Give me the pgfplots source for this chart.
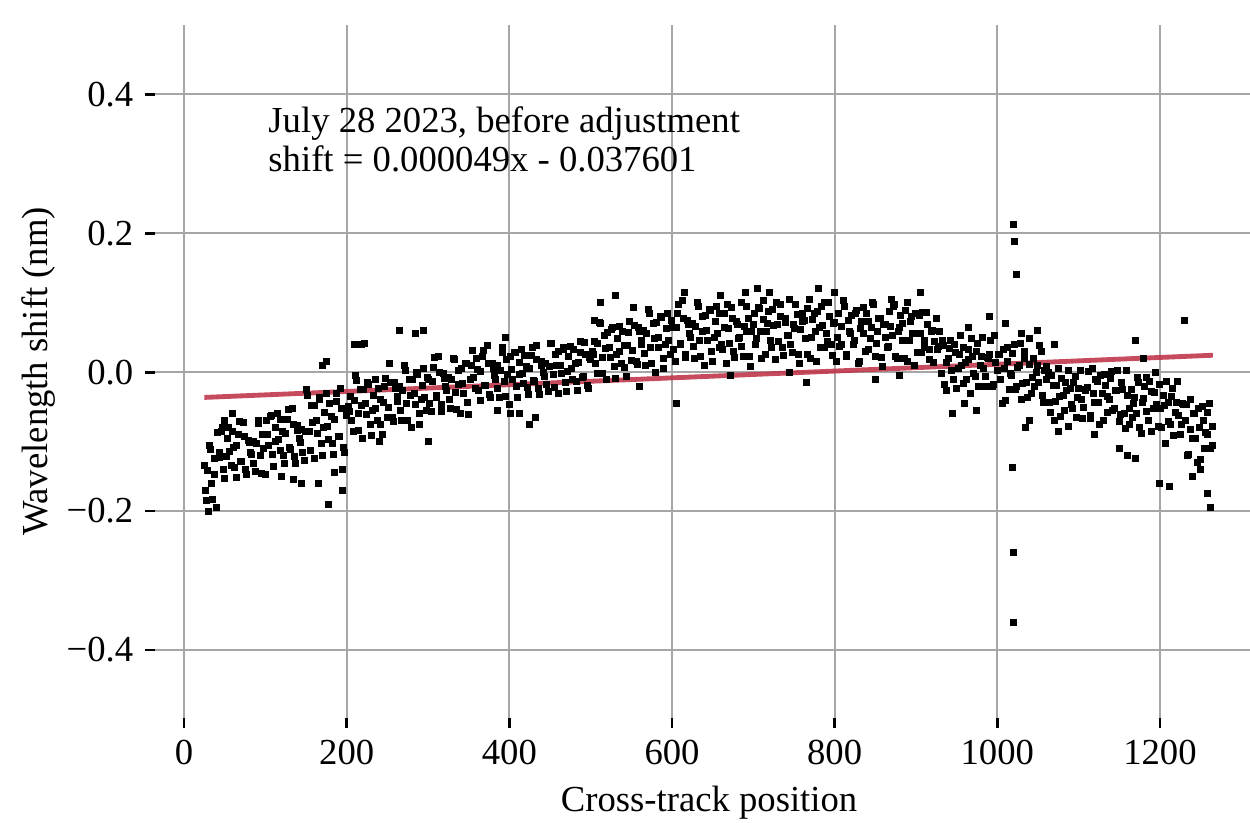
\documentclass[border=0pt]{standalone}
\usepackage{pgfplots}
\pgfplotsset{compat=1.18}
\usepackage{fontspec}
\setmainfont{Liberation Serif}
\definecolor{linered}{RGB}{192,55,75}
\begin{document}
\begin{tikzpicture}
\begin{axis}[name=ax, scale only axis, width=328.5pt, height=207.9pt,
  xmin=-35.7, xmax=1310.7, ymin=-0.498, ymax=0.5,
  axis line style={draw=none},
  grid=major, major grid style={gray!70, line width=0.6pt},
  tick pos=left, tick align=outside, major tick length=3pt,
  tick style={black, line width=0.8pt},
  xtick={0,200,400,600,800,1000,1200},
  xticklabels={0,200,400,600,800,1000,1200},
  ytick={-0.4,-0.2,0,0.2,0.4},
  yticklabels={−0.4,−0.2,0.0,0.2,0.4},
  tick label style={font=\fontsize{11}{13}\selectfont},
  xlabel={Cross-track position}, ylabel={Wavelength shift (nm)},
  xlabel style={at={(axis description cs:0.506,0)}, anchor=center, yshift=-25.5pt, font=\fontsize{11}{13}\selectfont},
  ylabel style={at={(axis description cs:-0.1065,0.5)}, anchor=center, rotate=0, font=\fontsize{11}{13}\selectfont},
  clip=false]
\addplot[only marks, mark=square*, mark size=0.85pt, black] coordinates {
(25,-0.135)(28,-0.185)(31,-0.105)(34,-0.16)(37,-0.125)(40,-0.195)
(43,-0.115)(46,-0.085)(49,-0.14)(52,-0.122)(55,-0.08)(58,-0.135)(61,-0.108)(64,-0.152)(67,-0.09)(70,-0.128)(73,-0.072)(76,-0.14)(79,-0.098)(82,-0.115)(85,-0.1)(88,-0.143)(91,-0.07)(94,-0.12)(97,-0.09)(100,-0.148)
(103,-0.09)(106,-0.064)(109,-0.118)(112,-0.1)(115,-0.059)(118,-0.113)(121,-0.086)(124,-0.131)(127,-0.068)(130,-0.109)(133,-0.052)(136,-0.122)(139,-0.077)(142,-0.095)(145,-0.082)(148,-0.127)
(151,-0.025)(154,-0.086)(157,-0.048)(160,-0.125)(163,-0.07)(166,-0.036)(169,-0.103)(172,-0.08)(175,-0.031)(178,-0.097)(181,-0.064)(184,-0.119)(187,-0.042)(190,-0.092)(193,-0.023)(196,-0.108)(199,-0.053)
(178,-0.19)(195,-0.17)(170,0.01)(175,0.015)(165,-0.16)(185,-0.145)(195,-0.14)(135,-0.155)(145,-0.16)(120,-0.15)(30,-0.2)(60,-0.06)(50,-0.07)
(202,-0.05)(205,-0.035)(208,-0.085)(211,-0.005)(214,-0.06)(217,-0.025)(220,-0.095)(223,-0.045)(226,-0.015)(229,-0.075)(232,-0.055)(235,-0.01)(238,-0.07)(241,-0.04)(244,-0.09)(247,-0.02)(250,-0.065)
(210,0.04)(218,0.04)(222,0.042)(265,0.06)(285,0.055)(295,0.06)
(253,0.013)(256,-0.065)(259,-0.015)(262,-0.035)(265,-0.02)(268,-0.07)(271,0.01)(274,-0.045)(277,-0.01)(280,-0.08)(283,-0.03)(286,0.0)(289,-0.06)(292,-0.04)(295,0.005)(298,-0.055)
(300,-0.1)(240,-0.1)
(301,-0.011)(304,-0.056)(307,0.007)(310,-0.034)(313,0.023)(316,-0.047)(319,-0.002)(322,-0.02)(325,-0.007)(328,-0.052)(331,0.02)(334,-0.029)(337,0.003)(340,-0.06)(343,-0.016)(346,0.012)(349,-0.043)
(352,-0.01)(355,0.031)(358,-0.023)(361,0.004)(364,-0.041)(367,0.022)(370,-0.019)(373,0.038)(376,-0.032)(379,0.013)(382,-0.005)(385,0.009)(388,-0.037)(391,0.036)(394,-0.014)(397,0.018)(400,-0.046)
(395,0.05)(402,-0.06)(385,-0.055)
(403,0.004)(406,0.028)(409,-0.02)(412,-0.004)(415,0.032)(418,-0.016)(421,0.008)(424,-0.032)(427,0.024)(430,-0.012)(433,0.038)(436,-0.024)(439,0.016)(442,0.0)(445,0.012)(448,-0.028)
(425,-0.075)(432,-0.065)(412,-0.06)
(451,0.041)(454,-0.003)(457,0.025)(460,-0.031)(463,0.009)(466,0.033)(469,-0.015)(472,0.001)(475,0.037)(478,-0.011)(481,0.013)(484,-0.027)(487,0.029)(490,-0.007)(493,0.043)(496,-0.019)(499,0.021)
(502,0.03)(505,0.044)(508,-0.002)(511,0.071)(514,0.021)(517,0.053)(520,-0.011)(523,0.035)(526,0.062)(529,0.008)(532,0.026)(535,0.066)(538,0.012)(541,0.039)(544,-0.006)(547,0.057)(550,0.017)
(512,0.1)(530,0.11)(505,0.075)
(553,0.093)(556,0.015)(559,0.065)(562,0.045)(565,0.06)(568,0.01)(571,0.09)(574,0.035)(577,0.07)(580,0.0)(583,0.05)(586,0.08)(589,0.02)(592,0.04)(595,0.085)(598,0.025)
(605,-0.045)(615,0.115)(560,-0.02)
(601,0.065)(604,0.015)(607,0.085)(610,0.04)(613,0.103)(616,0.025)(619,0.075)(622,0.055)(625,0.07)(628,0.02)(631,0.1)(634,0.045)(637,0.08)(640,0.01)(643,0.06)(646,0.09)(649,0.03)(652,0.05)(655,0.095)(658,0.035)
(661,0.04)(664,0.085)(667,0.013)(670,0.063)(673,0.093)(676,0.03)(679,0.073)(682,0.048)(685,0.1)(688,0.023)(691,0.058)(694,0.078)(697,0.008)(700,0.068)
(660,0.11)(690,0.115)(705,0.12)(720,0.115)(672,-0.005)
(703,0.04)(706,0.093)(709,0.058)(712,0.103)(715,0.025)(718,0.07)(721,0.045)(724,0.09)(727,0.018)(730,0.068)(733,0.098)(736,0.035)(739,0.078)(742,0.053)(745,0.105)(748,0.028)(751,0.063)(754,0.083)(757,0.013)(760,0.073)(763,0.075)(766,0.025)(769,0.105)(772,0.05)(775,0.085)(778,0.015)(781,0.065)(784,0.095)(787,0.035)(790,0.055)(793,0.1)(796,0.04)(799,0.07)
(765,-0.015)(780,0.12)(745,0.0)(800,0.115)
(802,0.015)(805,0.085)(808,0.04)(811,0.103)(814,0.025)(817,0.075)(820,0.055)(823,0.04)(826,0.085)(829,0.013)(832,0.063)(835,0.093)(838,0.03)(841,0.073)(844,0.048)(847,0.1)(850,0.023)(853,0.058)(856,0.078)(859,0.008)(862,0.068)(865,0.035)(868,0.088)(871,0.053)(874,0.098)(877,0.02)(880,0.065)(883,0.07)(886,0.02)(889,0.1)(892,0.045)(895,0.08)(898,0.01)
(870,0.105)(905,0.115)(850,-0.01)(880,-0.005)
(901,0.055)(904,0.082)(907,0.028)(910,0.046)(913,0.086)(916,0.032)(919,0.059)(922,0.014)(925,0.077)(928,0.037)
(931,-0.002)(934,0.039)(937,-0.026)(940,0.019)(943,0.046)(946,-0.011)(949,0.028)(952,0.005)(955,0.053)(958,-0.017)(961,0.014)(964,0.032)(967,-0.031)(970,0.023)(973,-0.006)(976,0.041)(979,0.01)(982,0.05)(985,-0.02)(988,0.021)(991,0.026)(994,-0.02)(997,0.053)(1000,0.003)
(945,-0.06)(960,-0.045)(975,-0.055)(990,0.08)(965,0.065)
(1003,0.025)(1006,-0.045)(1009,0.005)(1012,0.035)(1015,-0.025)(1018,-0.005)(1021,0.04)(1024,-0.02)(1027,0.01)(1030,-0.04)(1033,0.03)(1036,-0.015)(1039,0.048)(1042,-0.03)(1045,0.02)(1048,0.0)(1051,-0.015)(1054,0.03)(1057,-0.043)(1060,0.008)
(1010,0.07)(1030,0.055)(1050,0.06)(1040,-0.07)(1035,-0.08)
(1020,0.213)(1021,0.188)(1023,0.14)(1019,-0.137)(1020,-0.26)(1020,-0.36)
(1063,-0.001)(1066,-0.058)(1069,-0.019)(1072,-0.042)(1075,0.006)(1078,-0.064)(1081,-0.033)(1084,-0.015)(1087,-0.078)(1090,-0.024)(1093,-0.053)(1096,-0.006)(1099,-0.037)(1102,0.003)(1105,-0.067)(1108,-0.026)(1111,-0.022)(1114,-0.067)(1117,0.006)(1120,-0.044)(1123,-0.013)(1126,-0.076)(1129,-0.031)(1132,-0.004)(1135,-0.058)(1138,-0.04)(1141,0.001)(1144,-0.053)(1147,-0.026)(1150,-0.071)
(1075,-0.085)(1120,-0.09)(1150,-0.11)(1160,-0.12)(1170,-0.125)(1070,0.04)(1170,0.045)
(1153,-0.015)(1156,-0.06)(1159,0.003)(1162,-0.075)(1165,-0.025)(1168,-0.045)(1171,-0.06)(1174,-0.015)(1177,-0.088)(1180,-0.038)(1183,-0.008)(1186,-0.07)(1189,-0.028)(1192,-0.053)(1195,0.0)(1198,-0.078)
(1200,-0.16)(1212,-0.165)(1180,0.02)
(1201,-0.053)(1204,-0.033)(1207,-0.103)(1210,-0.043)(1213,-0.075)(1216,-0.023)(1219,-0.058)(1222,-0.013)(1225,-0.09)(1228,-0.045)(1231,-0.07)(1234,-0.12)(1237,-0.04)(1240,-0.095)(1243,-0.06)(1246,-0.13)(1249,-0.08)(1252,-0.05)(1255,-0.11)(1258,-0.09)(1261,-0.045)(1264,-0.105)
(1230,0.075)(1240,-0.15)(1258,-0.175)(1262,-0.195)(1250,-0.14)
};
\addplot[only marks, mark=square*, mark size=0.85pt, black] coordinates {
(26,-0.170)(29,-0.141)(32,-0.112)(35,-0.184)(38,-0.148)
(41,-0.087)(44,-0.123)(47,-0.080)(50,-0.153)(53,-0.096)(56,-0.114)(59,-0.085)(62,-0.137)(65,-0.105)(68,-0.071)(71,-0.128)(74,-0.092)(77,-0.148)(80,-0.101)(83,-0.119)(86,-0.132)(89,-0.103)(92,-0.074)(95,-0.146)(98,-0.110)
(101,-0.070)(104,-0.106)(107,-0.063)(110,-0.136)(113,-0.079)(116,-0.097)(119,-0.068)(122,-0.120)(125,-0.088)(128,-0.054)(131,-0.111)(134,-0.075)(137,-0.131)(140,-0.084)(143,-0.102)(146,-0.115)(149,-0.086)
(152,-0.033)(155,-0.113)(158,-0.073)(161,-0.048)(164,-0.088)(167,-0.040)(170,-0.120)(173,-0.058)(176,-0.078)(179,-0.045)(182,-0.103)(185,-0.068)(188,-0.030)(191,-0.093)(194,-0.053)(197,-0.115)(200,-0.063)
(203,-0.057)(206,-0.070)(209,-0.041)(212,-0.012)(215,-0.084)(218,-0.048)(221,-0.025)(224,-0.061)(227,-0.018)(230,-0.091)(233,-0.034)(236,-0.052)(239,-0.023)(242,-0.075)(245,-0.043)(248,-0.009)
(251,-0.051)(254,-0.015)(257,-0.071)(260,-0.024)(263,-0.042)(266,-0.055)(269,-0.026)(272,0.003)(275,-0.069)(278,-0.033)(281,-0.010)(284,-0.046)(287,-0.003)(290,-0.076)(293,-0.019)(296,-0.037)(299,-0.008)
(302,-0.045)(305,-0.013)(308,0.021)(311,-0.036)(314,0.000)(317,-0.056)(320,-0.009)(323,-0.027)(326,-0.040)(329,-0.011)(332,0.018)(335,-0.054)(338,-0.018)(341,0.005)(344,-0.031)(347,0.012)(350,-0.061)
(353,0.009)(356,-0.007)(359,0.019)(362,-0.027)(365,0.001)(368,0.031)(371,-0.019)(374,0.013)(377,-0.037)(380,0.005)(383,-0.011)(386,-0.023)(389,0.003)(392,0.029)(395,-0.035)(398,-0.003)
(401,0.022)(404,-0.010)(407,0.028)(410,-0.036)(413,0.014)(416,-0.002)(419,0.024)(422,-0.022)(425,0.006)(428,0.036)(431,-0.014)(434,0.018)(437,-0.032)(440,0.010)(443,-0.006)(446,-0.018)(449,0.008)
(452,0.042)(455,-0.022)(458,0.010)(461,0.030)(464,-0.002)(467,0.036)(470,-0.028)(473,0.022)(476,0.006)(479,0.032)(482,-0.014)(485,0.014)(488,0.044)(491,-0.006)(494,0.026)(497,-0.024)(500,0.018)
(503,0.025)(506,0.012)(509,0.041)(512,0.070)(515,-0.002)(518,0.034)(521,0.057)(524,0.021)(527,0.064)(530,-0.009)(533,0.048)(536,0.030)(539,0.059)(542,0.007)(545,0.039)(548,0.073)
(551,0.031)(554,0.067)(557,0.011)(560,0.058)(563,0.040)(566,0.027)(569,0.056)(572,0.085)(575,0.013)(578,0.049)(581,0.072)(584,0.036)(587,0.079)(590,0.006)(593,0.063)(596,0.045)(599,0.074)
(602,0.032)(605,0.064)(608,0.098)(611,0.041)(614,0.077)(617,0.021)(620,0.068)(623,0.050)(626,0.037)(629,0.066)(632,0.095)(635,0.023)(638,0.059)(641,0.082)(644,0.046)(647,0.089)(650,0.016)(653,0.073)(656,0.055)(659,0.084)
(662,0.032)(665,0.064)(668,0.098)(671,0.041)(674,0.077)(677,0.021)(680,0.068)(683,0.050)(686,0.037)(689,0.066)(692,0.095)(695,0.023)(698,0.059)
(701,0.085)(704,0.049)(707,0.092)(710,0.019)(713,0.076)(716,0.058)(719,0.087)(722,0.035)(725,0.067)(728,0.101)(731,0.044)(734,0.080)(737,0.024)(740,0.071)(743,0.053)(746,0.040)(749,0.069)(752,0.098)(755,0.026)(758,0.062)
(761,0.085)(764,0.049)(767,0.092)(770,0.019)(773,0.076)(776,0.058)(779,0.087)(782,0.035)(785,0.067)(788,0.101)(791,0.044)(794,0.080)(797,0.024)(800,0.071)
(803,0.050)(806,0.037)(809,0.066)(812,0.095)(815,0.023)(818,0.059)(821,0.082)(824,0.046)(827,0.089)(830,0.016)(833,0.073)(836,0.055)(839,0.084)(842,0.032)(845,0.064)(848,0.098)(851,0.041)(854,0.077)(857,0.021)(860,0.068)
(863,0.050)(866,0.037)(869,0.066)(872,0.095)(875,0.023)(878,0.059)(881,0.082)(884,0.046)(887,0.089)(890,0.016)(893,0.073)(896,0.055)(899,0.084)
(902,0.028)(905,0.056)(908,0.086)(911,0.036)(914,0.068)(917,0.018)(920,0.060)(923,0.044)(926,0.032)(929,0.058)
(932,0.046)(935,-0.018)(938,0.014)(941,0.034)(944,0.002)(947,0.040)(950,-0.024)(953,0.026)(956,0.010)(959,0.036)(962,-0.010)(965,0.018)(968,0.048)(971,-0.002)(974,0.030)(977,-0.020)(980,0.022)(983,0.006)(986,-0.006)(989,0.020)(992,0.046)(995,-0.018)(998,0.014)
(1001,0.025)(1004,-0.011)(1007,0.032)(1010,-0.041)(1013,0.016)(1016,-0.002)(1019,0.027)(1022,-0.025)(1025,0.007)(1028,0.041)(1031,-0.016)(1034,0.020)(1037,-0.036)(1040,0.011)(1043,-0.007)(1046,-0.020)(1049,0.009)(1052,0.038)(1055,-0.034)(1058,0.002)
(1061,-0.011)(1064,-0.043)(1067,-0.005)(1070,-0.069)(1073,-0.019)(1076,-0.035)(1079,-0.009)(1082,-0.055)(1085,-0.027)(1088,0.003)(1091,-0.047)(1094,-0.015)(1097,-0.065)(1100,-0.023)(1103,-0.039)(1106,-0.051)(1109,-0.025)(1112,0.001)(1115,-0.063)(1118,-0.031)
(1121,-0.011)(1124,-0.043)(1127,-0.005)(1130,-0.069)(1133,-0.019)(1136,-0.035)(1139,-0.009)(1142,-0.055)(1145,-0.027)(1148,0.003)
(1151,-0.061)(1154,-0.025)(1157,-0.081)(1160,-0.034)(1163,-0.052)(1166,-0.065)(1169,-0.036)(1172,-0.007)(1175,-0.079)(1178,-0.043)(1181,-0.020)(1184,-0.056)(1187,-0.013)(1190,-0.086)(1193,-0.029)(1196,-0.047)(1199,-0.018)
(1202,-0.080)(1205,-0.048)(1208,-0.014)(1211,-0.071)(1214,-0.035)(1217,-0.091)(1220,-0.044)(1223,-0.062)(1226,-0.075)(1229,-0.046)
(1232,-0.047)(1235,-0.119)(1238,-0.083)(1241,-0.060)(1244,-0.096)(1247,-0.053)(1250,-0.126)(1253,-0.069)(1256,-0.087)(1259,-0.058)(1262,-0.110)(1265,-0.078)
};
\addplot[color=linered, line width=1.45pt, opacity=0.9] coordinates {(25,-0.036376) (1265,0.024384)};
\node[anchor=north west, align=left, inner sep=0pt, font=\fontsize{11}{11.5}\selectfont] at (axis cs:103,0.383) {July 28 2023, before adjustment\\shift = 0.000049x - 0.037601};
\end{axis}
\pgfresetboundingbox
\path ([xshift=-46.5pt,yshift=-31.5pt]ax.south west) rectangle ([yshift=7.5pt]ax.north east);
\end{tikzpicture}
\end{document}
